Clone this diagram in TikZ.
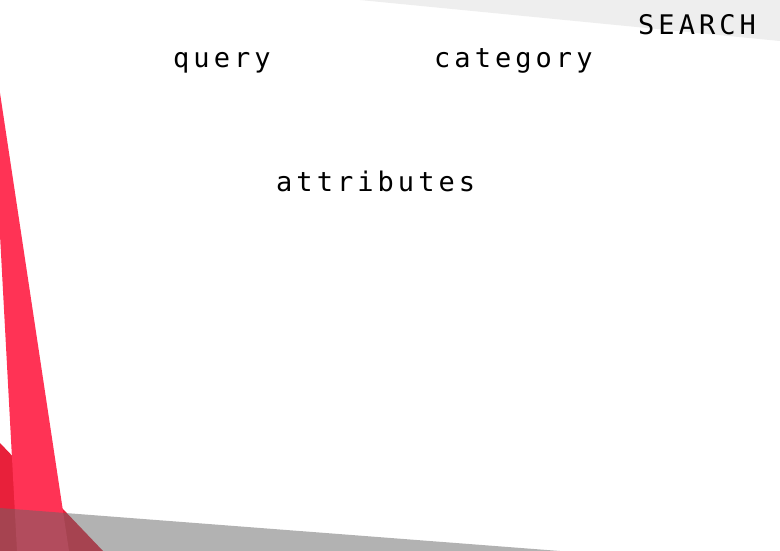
\documentclass[tikz,border=0pt]{standalone}
\usepackage{fontspec}
\newfontfamily\wordfont[LetterSpace=15]{DejaVu Sans Mono}
\definecolor{lightband}{HTML}{EEEEEE}
\definecolor{darkred}{HTML}{E8203A}
\definecolor{stripe}{HTML}{FF3355}
\begin{document}
\begin{tikzpicture}[x=1pt, y=-1pt,
		word/.style={anchor=base west, inner sep=0pt, font=\wordfont\fontsize{27}{32}\selectfont}]
					\useasboundingbox (0,0) rectangle (780,551);
					\fill[white] (0,0) rectangle (780,551);
					\fill[lightband] (360,0) -- (780,0) -- (780,41) -- cycle;
					\fill[darkred] (0,443) -- (103,551) -- (0,551) -- cycle;
					\fill[stripe] (0,93) -- (69,551) -- (17,551) -- (0,235) -- cycle;
					\fill[black!60, fill opacity=.5] (0,508) -- (560,551) -- (0,551) -- cycle;
					\node[word] (search) at (638,35) {SEARCH};
					\node[word] (query) at (173,68) {query};
					\node[word] (category) at (434,68) {category};
					\node[word] (attributes) at (276,191) {attributes};
				\end{tikzpicture}
\end{document}
